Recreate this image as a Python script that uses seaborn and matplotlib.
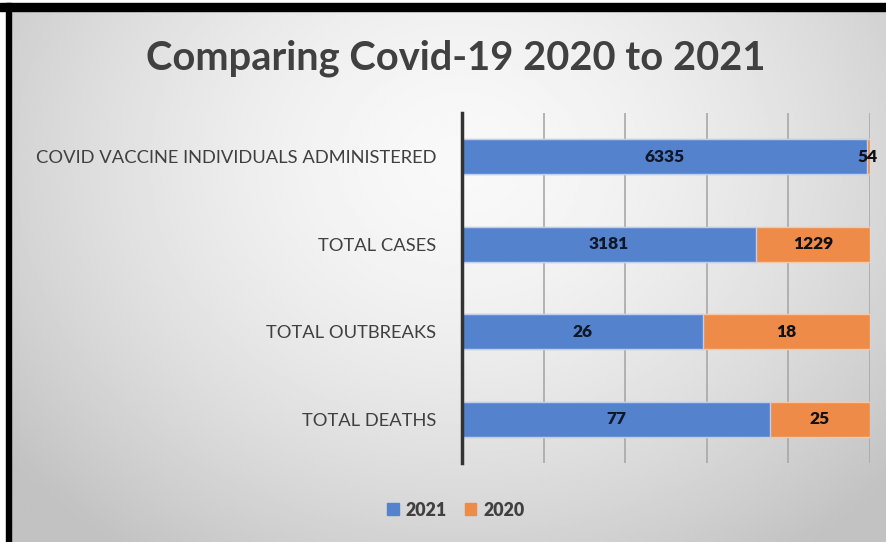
import numpy as np
import pandas as pd
import matplotlib
matplotlib.use("Agg")
import matplotlib.pyplot as plt
import matplotlib.patches as mpatches
import seaborn as sns

categories = ["COVID VACCINE INDIVIDUALS ADMINISTERED", "TOTAL CASES",
              "TOTAL OUTBREAKS", "TOTAL DEATHS"]
values_2021 = [6335, 3181, 26, 77]
values_2020 = [54, 1229, 18, 25]
series_names = ["2021", "2020"]
title = "Comparing Covid-19 2020 to 2021"

blue = "#5582CC"
orange = "#EE8B48"
text_col = "#404040"

sns.set_theme(style="white")
plt.rcParams["font.family"] = ["Lato", "DejaVu Sans"]

W, H = 887, 542
fig = plt.figure(figsize=(W / 100, H / 100), dpi=100)

# background gradient
bg = fig.add_axes([0, 0, 1, 1], zorder=-10)
xx, yy = np.meshgrid(np.linspace(0, 1, 400), np.linspace(0, 1, 250))
r = np.sqrt(((xx - 0.52) / 0.62) ** 2 + ((yy - 0.30) / 0.85) ** 2)
val = np.clip(0.975 - 0.20 * r ** 1.6, 0.76, 0.98)
bg.imshow(val, cmap="gray", vmin=0, vmax=1, aspect="auto",
          extent=[0, 1, 1, 0], interpolation="bilinear")
bg.set_xlim(0, 1)
bg.set_ylim(1, 0)
bg.axis("off")

# frame: white margins + black border top/left
fig.patches.append(mpatches.Rectangle((0, 1 - 3 / H), 1, 3 / H, transform=fig.transFigure,
                                      color="white", zorder=-5))
fig.patches.append(mpatches.Rectangle((0, 0), 6 / W, 1, transform=fig.transFigure,
                                      color="white", zorder=-5))
fig.patches.append(mpatches.Rectangle((0, 1 - 11 / H), 1, 8 / H, transform=fig.transFigure,
                                      color="black", zorder=-4))
fig.patches.append(mpatches.Rectangle((6 / W, 0), 5 / W, 1 - 3 / H, transform=fig.transFigure,
                                      color="black", zorder=-4))

df = pd.DataFrame({"category": categories, "v2021": values_2021, "v2020": values_2020})
df["total"] = df["v2021"] + df["v2020"]
df["p2021"] = df["v2021"] / df["total"] * 100
df["p_all"] = df["total"] / df["total"] * 100

ax = fig.add_axes([462 / W, 1 - 463 / H, (870 - 462) / W, (463 - 113) / H])
ax.patch.set_alpha(0)
sns.barplot(data=df, y="category", x="p_all", orient="h", color=orange,
            saturation=1, width=0.4, ax=ax, edgecolor="#f4c7a6", linewidth=1, zorder=2)
sns.barplot(data=df, y="category", x="p2021", orient="h", color=blue,
            saturation=1, width=0.4, ax=ax, edgecolor="#bcd0f0", linewidth=1, zorder=3)

ax.set_xlim(0, 100)
ax.set_ylim(3.5, -0.5)
ax.set_xticks([0, 20, 40, 60, 80, 100])
ax.set_xticklabels([])
ax.tick_params(axis="x", length=0)
ax.tick_params(axis="y", length=0, pad=18.5)
ax.set_yticks(range(len(categories)))
ax.set_yticklabels(categories, fontsize=13.2, color=text_col)
ax.grid(axis="x", color="#a8a8a8", linewidth=1.2, zorder=0)
ax.set_axisbelow(True)
for s in ["top", "right", "bottom"]:
    ax.spines[s].set_visible(False)
ax.spines["left"].set_color("#333333")
ax.spines["left"].set_linewidth(2.5)
ax.spines["left"].set_zorder(5)
ax.set_xlabel("")
ax.set_ylabel("")

for i, row in df.iterrows():
    p = row["p2021"]
    ax.text(p / 2, i, f"{row['v2021']}", ha="center", va="center",
            fontsize=12.5, fontweight="heavy", color="#101828", zorder=6)
    x2 = p + (100 - p) / 2
    if 100 - p < 3:
        x2 = 99.3
    ax.text(x2, i, f"{row['v2020']}", ha="center", va="center",
            fontsize=12.5, fontweight="heavy", color="#111111", zorder=6)

fig.text(456 / W, 1 - 58 / H, title, ha="center", va="center",
         fontsize=28.7, fontweight="bold", color=text_col)

handles = [mpatches.Patch(color=blue, label=series_names[0]),
           mpatches.Patch(color=orange, label=series_names[1])]
leg = fig.legend(handles=handles, loc="center", bbox_to_anchor=(456 / W, 1 - 510 / H),
                 ncol=2, frameon=False, handlelength=0.65, handleheight=0.65,
                 handletextpad=0.4, columnspacing=1.0,
                 prop={"size": 12.8, "weight": "heavy"})
for t in leg.get_texts():
    t.set_color(text_col)

fig.savefig("out.png", dpi=100)
